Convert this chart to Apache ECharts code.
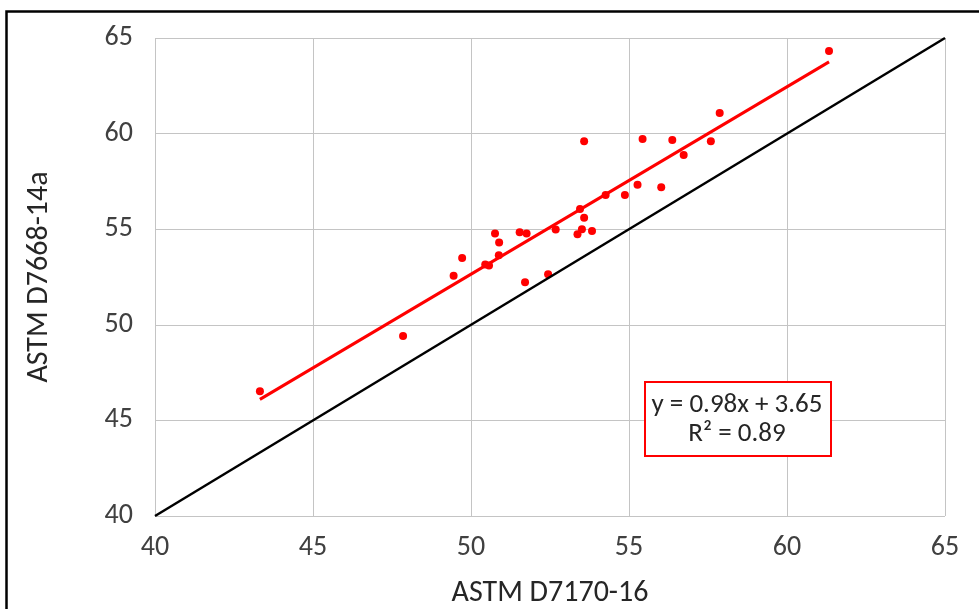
<!DOCTYPE html>
<html><head><meta charset="utf-8">
<script src="https://cdn.jsdelivr.net/npm/echarts@6/dist/echarts.min.js"></script>
<style>html,body{margin:0;padding:0;background:#fff}#c{width:979px;height:609px}</style>
</head><body><div id="c"></div>
<script>
const xVals = [43.32, 47.85, 49.45, 49.72, 50.45, 50.57, 50.76, 50.89, 50.88, 51.54, 51.76, 51.71, 52.44, 52.68, 53.37, 53.45, 53.51, 53.58, 53.58, 53.83, 54.26, 54.87, 55.27, 55.43, 56.02, 56.37, 56.73, 57.59, 57.87, 61.33];
const yVals = [46.52, 49.41, 52.56, 53.50, 53.16, 53.10, 54.78, 54.31, 53.64, 54.84, 54.77, 52.22, 52.65, 54.98, 54.73, 56.05, 55.00, 55.60, 59.60, 54.90, 56.79, 56.79, 57.33, 59.72, 57.19, 59.66, 58.88, 59.60, 61.08, 64.32];
const trendX = [43.32, 61.33];
const trendY = [46.10, 63.75];
const refX = [40, 65];
const refY = [40, 65];
const xTicks = [40, 45, 50, 55, 60, 65];
const yTicks = [40, 45, 50, 55, 60, 65];
const eqLines = ['y = 0.98x + 3.65', 'R² = 0.89'];

const font = 'Carlito, "Open Sans", "Noto Sans", sans-serif';
const chart = echarts.init(document.getElementById('c'), null, {renderer: 'canvas'});
const zip = (a, b) => a.map((v, i) => [v, b[i]]);
chart.setOption({
  animation: false,
  backgroundColor: '#fff',
  grid: {left: 155, right: 34, top: 38, bottom: 93, containLabel: false, outerBoundsMode: 'none'},
  xAxis: {
    type: 'value', min: xTicks[0], max: xTicks[xTicks.length - 1], interval: 5,
    name: 'ASTM D7170-16', nameLocation: 'middle', nameGap: 62,
    nameTextStyle: {fontFamily: font, fontSize: 30, color: '#262626'},
    axisLine: {show: false}, axisTick: {show: false},
    axisLabel: {fontFamily: font, fontSize: 28, color: '#404040', margin: 18},
    splitLine: {show: true, lineStyle: {color: '#c4c4c4', width: 1}}
  },
  yAxis: {
    type: 'value', min: yTicks[0], max: yTicks[yTicks.length - 1], interval: 5,
    name: 'ASTM D7668-14a', nameLocation: 'middle', nameGap: 101, nameRotate: 90,
    nameTextStyle: {fontFamily: font, fontSize: 30, color: '#262626'},
    axisLine: {show: false}, axisTick: {show: false},
    axisLabel: {fontFamily: font, fontSize: 28, color: '#404040', margin: 22},
    splitLine: {show: true, lineStyle: {color: '#c4c4c4', width: 1}}
  },
  series: [
    {type: 'line', data: zip(refX, refY), symbol: 'none', lineStyle: {color: '#000', width: 2.5}, silent: true},
    {type: 'line', data: zip(trendX, trendY), symbol: 'none', lineStyle: {color: '#ff0000', width: 3}, silent: true},
    {type: 'scatter', data: zip(xVals, yVals), symbol: 'circle', symbolSize: 8, itemStyle: {color: '#ff0000', opacity: 1}}
  ],
  graphic: [
    {type: 'rect', left: 4, top: 9, shape: {width: 1100, height: 800}, style: {fill: 'none', stroke: '#000', lineWidth: 2.5}, silent: true},
    {type: 'rect', left: 644, top: 381, shape: {width: 186, height: 74}, style: {fill: '#fff', stroke: '#ff0000', lineWidth: 2}, z: 100},
    {type: 'text', x: 737, y: 405, style: {text: eqLines[0], fontFamily: font, fontSize: 27, fill: '#262626', align: 'center', verticalAlign: 'middle'}, z: 101},
    {type: 'text', x: 737, y: 434, style: {text: eqLines[1], fontFamily: font, fontSize: 27, fill: '#262626', align: 'center', verticalAlign: 'middle'}, z: 101}
  ]
});
</script></body></html>
